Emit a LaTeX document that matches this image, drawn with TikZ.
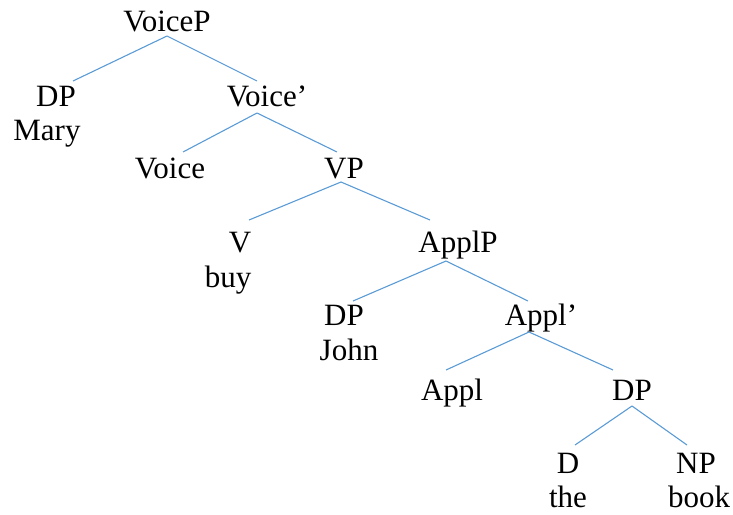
\documentclass[tikz,border=0pt]{standalone}
\usepackage{fontspec}
\setmainfont{Liberation Serif}
\usetikzlibrary{calc}
\definecolor{branch}{RGB}{91,155,213}
\tikzset{
  cat/.style={anchor=base, inner sep=0pt, font=\fontsize{15.5}{18}\selectfont},
  branch/.style={draw=branch, line width=0.55pt}
}
\begin{document}
\begin{tikzpicture}[x=0.5pt,y=-0.5pt]
\useasboundingbox (0,0) rectangle (733,514);
% labels
\node[cat] (voicep) at (167,32) {VoiceP};
\node[cat] (dpsubj) at (56,106) {DP};
\node[cat] (mary) at (47,140) {Mary};
\node[cat] (voicebar) at (267,106) {Voice’};
\node[cat] (voice) at (170,178) {Voice};
\node[cat] (vp) at (344,178) {VP};
\node[cat] (v) at (240,252) {V};
\node[cat] (buy) at (228,287) {buy};
\node[cat] (applp) at (458,252) {ApplP};
\node[cat] (dpgoal) at (344,325) {DP};
\node[cat] (john) at (349,360) {John};
\node[cat] (applbar) at (541,325) {Appl’};
\node[cat] (appl) at (452,400) {Appl};
\node[cat] (dpobj) at (632,400) {DP};
\node[cat] (d) at (568,473) {D};
\node[cat] (the) at (568,507) {the};
\node[cat] (np) at (696,473) {NP};
\node[cat] (book) at (699,507) {book};
% branches
\draw[branch] ($(voicep.base)+(0,4)$) -- ($(dpsubj.base)+(17,-25)$);
\draw[branch] ($(voicep.base)+(0,4)$) -- ($(voicebar.base)+(-10,-25)$);
\draw[branch] ($(voicebar.base)+(-10,7)$) -- ($(voice.base)+(13,-26)$);
\draw[branch] ($(voicebar.base)+(-10,7)$) -- ($(vp.base)+(-7,-26)$);
\draw[branch] ($(vp.base)+(-3,4)$) -- ($(v.base)+(9,-32)$);
\draw[branch] ($(vp.base)+(-3,4)$) -- ($(applp.base)+(-28,-32)$);
\draw[branch] ($(applp.base)+(-12,9)$) -- ($(dpgoal.base)+(9,-24)$);
\draw[branch] ($(applp.base)+(-12,9)$) -- ($(applbar.base)+(-13,-24)$);
\draw[branch] ($(applbar.base)+(-12,7)$) -- ($(appl.base)+(-6,-30)$);
\draw[branch] ($(applbar.base)+(-12,7)$) -- ($(dpobj.base)+(-19,-30)$);
\draw[branch] ($(dpobj.base)+(0,6)$) -- ($(d.base)+(7,-28)$);
\draw[branch] ($(dpobj.base)+(0,6)$) -- ($(np.base)+(-9,-28)$);
\end{tikzpicture}
\end{document}
